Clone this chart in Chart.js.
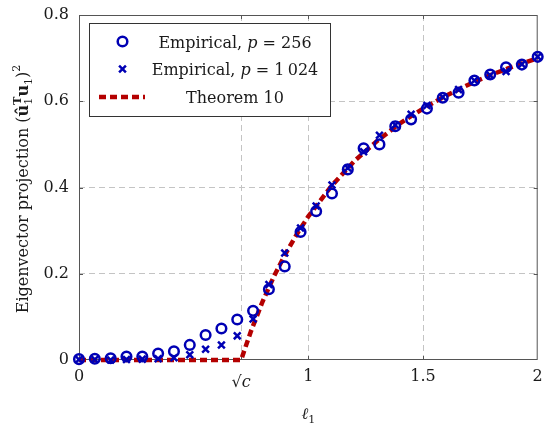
<!DOCTYPE html>
<html>
<head>
<meta charset="utf-8">
<script src="https://cdn.jsdelivr.net/npm/chart.js@4.4.1/dist/chart.umd.min.js"></script>
<style>
html,body{margin:0;padding:0;background:#fff;}
#wrap{width:545px;height:424px;position:relative;}
</style>
</head>
<body>
<div id="wrap"><canvas id="c" width="545" height="424"></canvas></div>
<script>
// ---- data ----
const ell = [0, 0.069, 0.138, 0.207, 0.276, 0.345, 0.414, 0.483, 0.552, 0.621,
             0.690, 0.759, 0.828, 0.897, 0.966, 1.034, 1.103, 1.172, 1.241, 1.310,
             1.379, 1.448, 1.517, 1.586, 1.655, 1.724, 1.793, 1.862, 1.931, 2.000];
const proj256 = [0.002, 0.003, 0.004, 0.008, 0.008, 0.015, 0.020, 0.035, 0.058, 0.073,
                 0.094, 0.114, 0.164, 0.217, 0.297, 0.345, 0.386, 0.442, 0.491, 0.500,
                 0.542, 0.558, 0.583, 0.608, 0.620, 0.648, 0.662, 0.679, 0.685, 0.703];
const proj1024 = [0.001, 0.001, 0.000, 0.001, 0.002, 0.003, 0.005, 0.012, 0.025, 0.035,
                  0.056, 0.095, 0.175, 0.248, 0.306, 0.357, 0.406, 0.445, 0.483, 0.521,
                  0.545, 0.570, 0.590, 0.610, 0.627, 0.648, 0.660, 0.669, 0.686, 0.703];
const theoryEll  = [0, 0.707, 0.72, 0.75, 0.80, 0.85, 0.90, 0.95, 1.00, 1.10, 1.20,
                    1.30, 1.40, 1.50, 1.60, 1.70, 1.80, 1.90, 2.00];
const theoryProj = [0, 0, 0.021, 0.067, 0.135, 0.194, 0.246, 0.292, 0.333, 0.403, 0.461,
                    0.508, 0.549, 0.583, 0.613, 0.639, 0.662, 0.682, 0.700];
const xTickValues = [0, 0.707, 1, 1.5, 2];
const xTickLabels = ['0', '√c', '1', '1.5', '2'];
const yTickValues = [0, 0.2, 0.4, 0.6, 0.8];
const yTickLabels = ['0', '0.2', '0.4', '0.6', '0.8'];
const seriesNames = ['Empirical, ', 'p', ' = 256', ' = 1\u2009024', 'Theorem 10'];

const FAM = "'DejaVu Serif', serif";
const BLUE = '#0000b4';
const RED = '#b40000';
const TXT = '#1a1a1a';
const SQRT_IDX = 1;

const toPts = (xs, ys) => xs.map((x, i) => ({x: x, y: ys[i]}));

function drawSegs(ctx, segs, cx, cy) {
  const widths = segs.map(s => { ctx.font = s.f; return ctx.measureText(s.t).width; });
  let total = 0;
  for (let i = 0; i < segs.length; i++) {
    if (segs[i].stackWithPrev) { total += Math.max(0, widths[i] - widths[i-1]); }
    else total += widths[i];
  }
  let x = cx - total / 2;
  let prevX = x, prevW = 0;
  for (let i = 0; i < segs.length; i++) {
    const s = segs[i];
    ctx.font = s.f;
    if (s.stackWithPrev) {
      ctx.fillText(s.t, prevX, cy + (s.dy || 0));
      x = prevX + Math.max(prevW, widths[i]);
    } else {
      ctx.fillText(s.t, x, cy + (s.dy || 0));
      prevX = x; prevW = widths[i];
      x += widths[i];
    }
  }
}

const decorPlugin = {
  id: 'decor',
  beforeDatasetsDraw(chart) {
    const {ctx, chartArea: a, scales: {x, y}} = chart;
    ctx.save();
    ctx.strokeStyle = '#555';
    ctx.lineWidth = 1;
    ctx.setLineDash([]);
    ctx.strokeRect(a.left + 0.5, a.top + 0.5, a.right - a.left - 1, a.bottom - a.top - 1);
    ctx.beginPath();
    xTickValues.forEach((v, i) => {
      if (i === 0 || i === xTickValues.length - 1) return;
      const px = Math.round(x.getPixelForValue(v)) + 0.5;
      ctx.moveTo(px, a.bottom); ctx.lineTo(px, a.bottom - 4);
      ctx.moveTo(px, a.top); ctx.lineTo(px, a.top + 4);
    });
    yTickValues.forEach((v, i) => {
      if (i === 0 || i === yTickValues.length - 1) return;
      const py = Math.round(y.getPixelForValue(v)) + 0.5;
      ctx.moveTo(a.left, py); ctx.lineTo(a.left + 4, py);
      ctx.moveTo(a.right, py); ctx.lineTo(a.right - 4, py);
    });
    ctx.stroke();
    ctx.restore();
  },
  afterDraw(chart) {
    const {ctx, chartArea: a, scales: {x}} = chart;
    ctx.save();
    ctx.fillStyle = TXT;
    ctx.textBaseline = 'alphabetic';
    ctx.textAlign = 'left';
    // sqrt(c) tick label, sits a little lower like the reference
    const sx = x.getPixelForValue(xTickValues[SQRT_IDX]);
    drawSegs(ctx, [
      {t: xTickLabels[SQRT_IDX].charAt(0), f: '16px ' + FAM, dy: 0},
      {t: xTickLabels[SQRT_IDX].slice(1), f: 'italic 16px ' + FAM, dy: 0}
    ], sx, 387);
    // x title
    drawSegs(ctx, [
      {t: 'ℓ', f: 'italic 16px ' + FAM, dy: 0},
      {t: '1', f: '11px ' + FAM, dy: 4}
    ], (a.left + a.right) / 2, 419);
    // y title
    ctx.translate(22, 189);
    ctx.rotate(-Math.PI / 2);
    drawSegs(ctx, [
      {t: 'Eigenvector projection (', f: '16px ' + FAM, dy: 0},
      {t: 'û', f: 'bold 16px ' + FAM, dy: 0},
      {t: '1', f: '11px ' + FAM, dy: 4},
      {t: 'T', f: 'bold 11px ' + FAM, dy: -7, stackWithPrev: true},
      {t: 'u', f: 'bold 16px ' + FAM, dy: 0},
      {t: '1', f: '11px ' + FAM, dy: 4},
      {t: ')', f: '16px ' + FAM, dy: 0},
      {t: '2', f: '11px ' + FAM, dy: -8}
    ], 0, 5.5);
    ctx.restore();

    // legend
    ctx.save();
    const L = 89, T = 23, R = 331, B = 117;
    ctx.fillStyle = '#fff';
    ctx.fillRect(L, T, R - L, B - T);
    ctx.strokeStyle = '#333';
    ctx.lineWidth = 1;
    ctx.strokeRect(L + 0.5, T + 0.5, R - L - 1, B - T - 1);
    const rows = [41.5, 69, 97];
    ctx.strokeStyle = BLUE; ctx.lineWidth = 2.5;
    ctx.beginPath(); ctx.arc(122.5, rows[0], 4.8, 0, Math.PI * 2); ctx.stroke();
    const d = 3.4;
    ctx.beginPath();
    ctx.moveTo(122.5 - d, rows[1] - d); ctx.lineTo(122.5 + d, rows[1] + d);
    ctx.moveTo(122.5 - d, rows[1] + d); ctx.lineTo(122.5 + d, rows[1] - d);
    ctx.stroke();
    ctx.strokeStyle = RED; ctx.lineWidth = 4.5; ctx.setLineDash([7, 4]);
    ctx.beginPath(); ctx.moveTo(99, rows[2]); ctx.lineTo(145, rows[2]); ctx.stroke();
    ctx.setLineDash([]);
    ctx.fillStyle = TXT;
    ctx.textBaseline = 'alphabetic';
    const nf = '16px ' + FAM, itf = 'italic 16px ' + FAM;
    drawSegs(ctx, [{t: seriesNames[0], f: nf}, {t: seriesNames[1], f: itf}, {t: seriesNames[2], f: nf}], 235, rows[0] + 6);
    drawSegs(ctx, [{t: seriesNames[0], f: nf}, {t: seriesNames[1], f: itf}, {t: seriesNames[3], f: nf}], 235, rows[1] + 6);
    drawSegs(ctx, [{t: seriesNames[4], f: nf}], 235, rows[2] + 6);
    ctx.restore();
  }
};

const zeroPad = s => { s.paddingLeft = 0; s.paddingRight = 0; s.paddingTop = 0; s.paddingBottom = 0; };

new Chart(document.getElementById('c'), {
  type: 'scatter',
  data: {
    datasets: [
      {
        label: 'Empirical, p = 256',
        data: toPts(ell, proj256),
        pointStyle: 'circle',
        pointRadius: 4.8,
        pointBorderWidth: 2.5,
        borderColor: BLUE,
        backgroundColor: 'rgba(0,0,0,0)',
        pointBackgroundColor: 'rgba(0,0,0,0)',
        showLine: false,
        clip: false,
        order: 1
      },
      {
        label: 'Empirical, p = 1024',
        data: toPts(ell, proj1024),
        pointStyle: 'crossRot',
        pointRadius: 4.8,
        pointBorderWidth: 2.5,
        borderColor: BLUE,
        backgroundColor: BLUE,
        showLine: false,
        clip: false,
        order: 2
      },
      {
        label: 'Theorem 10',
        data: toPts(theoryEll, theoryProj),
        showLine: true,
        borderColor: RED,
        borderWidth: 4.5,
        borderDash: [7, 4],
        pointRadius: 0,
        tension: 0,
        fill: false,
        clip: false,
        order: 3
      }
    ]
  },
  options: {
    responsive: false,
    animation: false,
    events: [],
    layout: {padding: {top: 15, right: 6, left: 0, bottom: 0}},
    plugins: {legend: {display: false}, tooltip: {enabled: false}},
    scales: {
      x: {
        type: 'linear', min: 0, max: 2,
        afterBuildTicks: s => { s.ticks = xTickValues.map(v => ({value: v})); },
        afterFit: s => { s.height = 64; zeroPad(s); },
        ticks: {
          autoSkip: false, maxRotation: 0, padding: 7, color: TXT,
          font: {family: FAM, size: 16},
          callback: (v, i) => (i === SQRT_IDX ? '' : xTickLabels[i])
        },
        grid: {
          drawTicks: false, lineWidth: 1,
          color: ctx => (ctx.index === 0 || ctx.index === xTickValues.length - 1) ? 'rgba(0,0,0,0)' : '#c4c4c4'
        },
        border: {display: false, dash: [6, 4]},
        title: {display: false}
      },
      y: {
        type: 'linear', min: 0, max: 0.8,
        afterBuildTicks: s => { s.ticks = yTickValues.map(v => ({value: v})); },
        afterFit: s => { s.width = 79; zeroPad(s); },
        ticks: {
          autoSkip: false, padding: 10, color: TXT,
          font: {family: FAM, size: 16},
          callback: (v, i) => yTickLabels[i]
        },
        grid: {
          drawTicks: false, lineWidth: 1,
          color: ctx => (ctx.index === 0 || ctx.index === yTickValues.length - 1) ? 'rgba(0,0,0,0)' : '#c4c4c4'
        },
        border: {display: false, dash: [6, 4]},
        title: {display: false}
      }
    }
  },
  plugins: [decorPlugin]
});
</script>
</body>
</html>
